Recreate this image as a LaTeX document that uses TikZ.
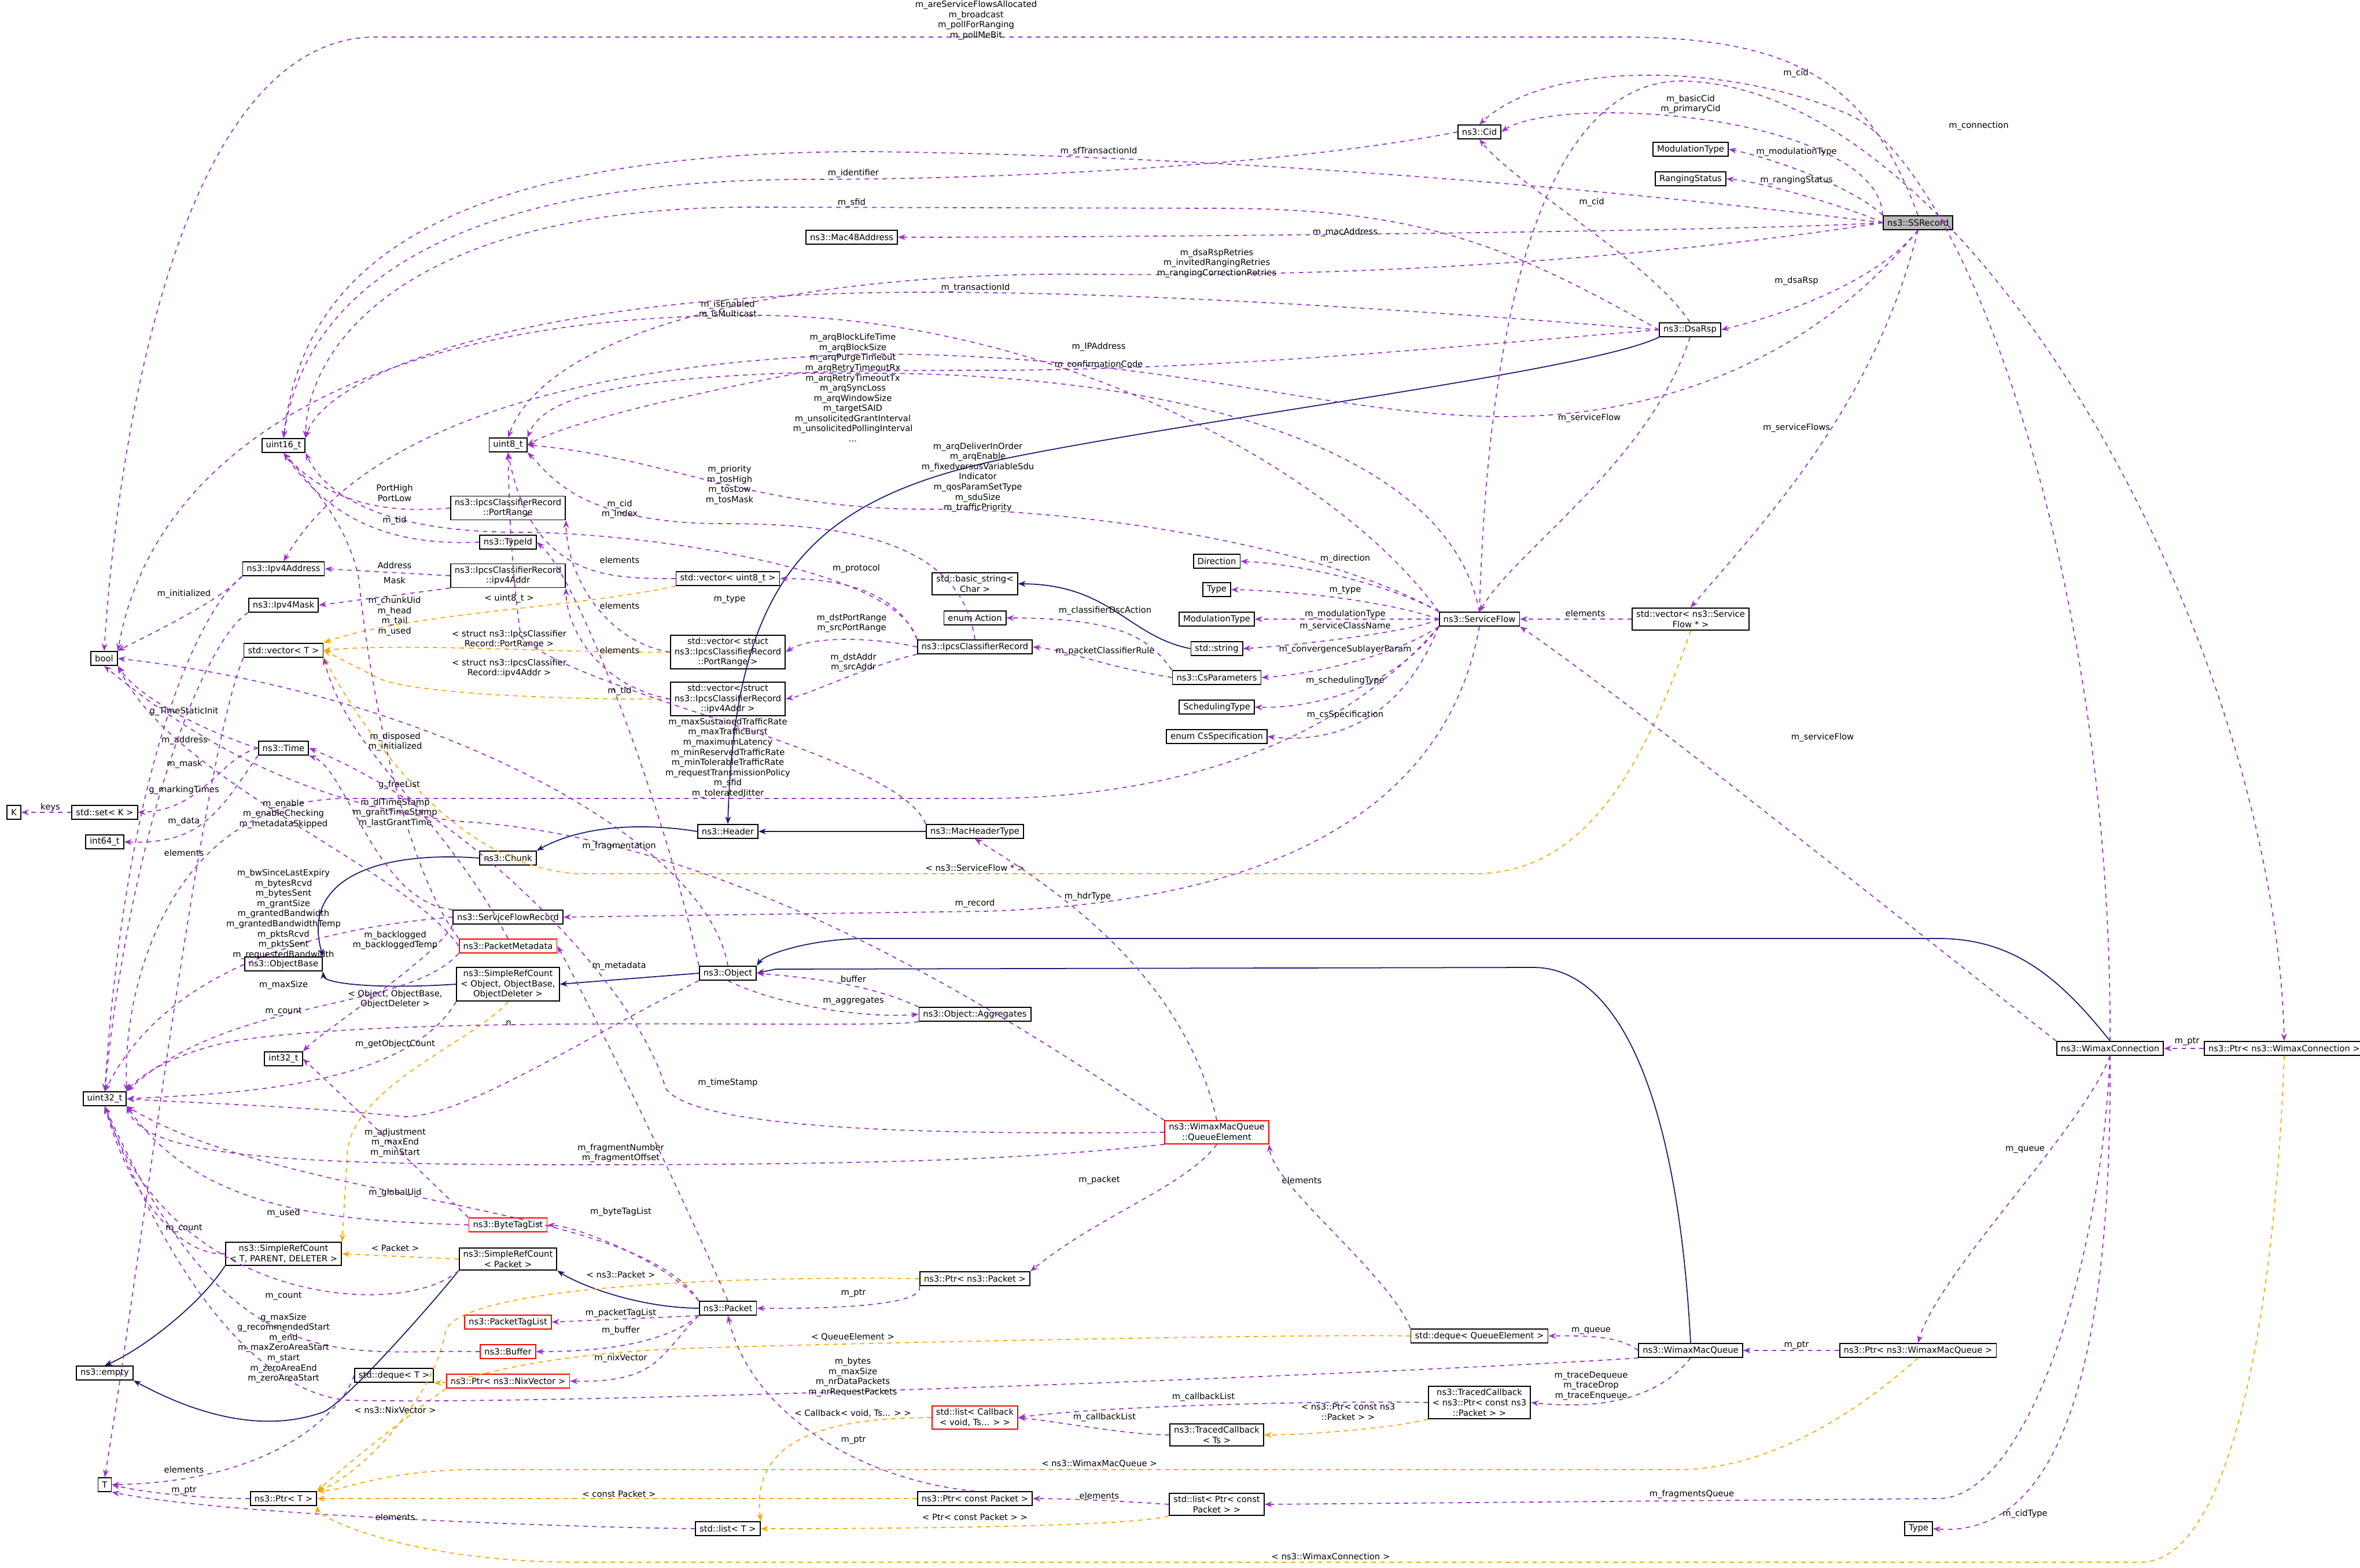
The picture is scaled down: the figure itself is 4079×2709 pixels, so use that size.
\documentclass[tikz,border=0pt]{standalone}
\usepackage{fontspec}
\setmainfont{DejaVu Sans}
\usetikzlibrary{arrows.meta}
\definecolor{usec}{HTML}{9A32CD}
\definecolor{inhc}{HTML}{191970}
\definecolor{tmpc}{HTML}{FFA500}
\begin{document}
\begin{tikzpicture}[x=0.01cm,y=0.01cm,
  font=\fontsize{4.2}{5}\selectfont,
  box/.style={draw=black,line width=0.5pt,fill=white,inner xsep=2pt,inner ysep=1.3pt,minimum height=0.24cm,align=center},
  redbox/.style={box,draw=red},
  grbox/.style={box,fill=gray!55},
  lbl/.style={align=center,inner sep=0.5pt},
  use/.style={draw=usec,dash pattern=on 2.2pt off 2.2pt,line width=0.5pt,-{Stealth[length=1.3mm,width=1.0mm]}},
  tmpl/.style={draw=tmpc,dash pattern=on 2.2pt off 2.2pt,line width=0.5pt,-{Stealth[length=1.3mm,width=1.0mm]}},
  inh/.style={draw=inhc,line width=0.5pt,-{Stealth[length=1.3mm,width=1.0mm]}}]
\useasboundingbox (0,0) rectangle (4079,-2709);
% ---------------- nodes
\node[grbox] (ssr) at (3315,-385) {ns3::SSRecord};
\node[box] (cid) at (2557,-228) {ns3::Cid};
\node[box] (modt) at (2922,-258) {ModulationType};
\node[box] (rang) at (2922,-309) {RangingStatus};
\node[box] (dsa) at (2921,-570) {ns3::DsaRsp};
\node[box] (mac) at (1472,-410) {ns3::Mac48Address};
\node[box] (u16) at (490,-770) {uint16\_t};
\node[box] (u8) at (878,-769) {uint8\_t};
\node[box] (pr) at (878,-878) {ns3::IpcsClassifierRecord\\::PortRange};
\node[box] (tid) at (878,-937) {ns3::TypeId};
\node[box] (ipr) at (878,-995) {ns3::IpcsClassifierRecord\\::ipv4Addr};
\node[box] (ipa) at (490,-983) {ns3::Ipv4Address};
\node[box] (ipm) at (490,-1046) {ns3::Ipv4Mask};
\node[box] (vu8) at (1258,-1000) {std::vector< uint8\_t >};
\node[box] (vpr) at (1258,-1127) {std::vector< struct\\ns3::IpcsClassifierRecord\\::PortRange >};
\node[box] (vip) at (1258,-1208) {std::vector< struct\\ns3::IpcsClassifierRecord\\::ipv4Addr >};
\node[box] (bstr) at (1685,-1009) {std::basic\_string<\\Char >};
\node[box] (act) at (1685,-1068) {enum Action};
\node[box] (ipcs) at (1685,-1118) {ns3::IpcsClassifierRecord};
\node[box] (dir) at (2103,-970) {Direction};
\node[box] (typ) at (2103,-1019) {Type};
\node[box] (modt2) at (2103,-1070) {ModulationType};
\node[box] (str) at (2103,-1121) {std::string};
\node[box] (csp) at (2103,-1171) {ns3::CsParameters};
\node[box] (sch) at (2103,-1222) {SchedulingType};
\node[box] (css) at (2103,-1273) {enum CsSpecification};
\node[box] (sf) at (2557,-1070) {ns3::ServiceFlow};
\node[box] (vsf) at (2922,-1070) {std::vector< ns3::Service\\Flow * >};
\node[box] (bool) at (180,-1138) {bool};
\node[box] (vT) at (490,-1124) {std::vector< T >};
\node[box] (time) at (490,-1293) {ns3::Time};
\node[box] (K) at (24,-1404) {K};
\node[box] (setk) at (181,-1404) {std::set< K >};
\node[box] (i64) at (181,-1455) {int64\_t};
\node[box] (hdr) at (1258,-1437) {ns3::Header};
\node[box] (mht) at (1685,-1437) {ns3::MacHeaderType};
\node[box] (chunk) at (878,-1483) {ns3::Chunk};
\node[box] (sfr) at (878,-1585) {ns3::ServiceFlowRecord};
\node[redbox] (pm) at (878,-1635) {ns3::PacketMetadata};
\node[box] (ob) at (490,-1666) {ns3::ObjectBase};
\node[box] (srco) at (878,-1701) {ns3::SimpleRefCount\\< Object, ObjectBase,\\ObjectDeleter >};
\node[box] (obj) at (1258,-1682) {ns3::Object};
\node[box] (agg) at (1685,-1753) {ns3::Object::Aggregates};
\node[box] (conn) at (3647,-1812) {ns3::WimaxConnection};
\node[box] (pconn) at (3948,-1812) {ns3::Ptr< ns3::WimaxConnection >};
\node[box] (i32) at (490,-1830) {int32\_t};
\node[box] (u32) at (181,-1899) {uint32\_t};
\node[redbox] (qe) at (2103,-1957) {ns3::WimaxMacQueue\\::QueueElement};
\node[redbox] (btl) at (878,-2117) {ns3::ByteTagList};
\node[box] (srct) at (490,-2167) {ns3::SimpleRefCount\\< T, PARENT, DELETER >};
\node[box] (srcp) at (878,-2176) {ns3::SimpleRefCount\\< Packet >};
\node[box] (pp) at (1685,-2210) {ns3::Ptr< ns3::Packet >};
\node[box] (pkt) at (1258,-2261) {ns3::Packet};
\node[redbox] (ptl) at (878,-2285) {ns3::PacketTagList};
\node[box] (dqe) at (2557,-2309) {std::deque< QueueElement >};
\node[box] (wmq) at (2922,-2334) {ns3::WimaxMacQueue};
\node[box] (pwmq) at (3315,-2334) {ns3::Ptr< ns3::WimaxMacQueue >};
\node[redbox] (buf) at (878,-2336) {ns3::Buffer};
\node[box] (empty) at (181,-2373) {ns3::empty};
\node[box] (dT) at (681,-2377) {std::deque< T >};
\node[redbox] (pnix) at (878,-2387) {ns3::Ptr< ns3::NixVector >};
\node[box] (tcp) at (2557,-2424) {ns3::TracedCallback\\< ns3::Ptr< const ns3\\::Packet > >};
\node[redbox] (lcb) at (1685,-2450) {std::list< Callback\\< void, Ts... > >};
\node[box] (tcs) at (2103,-2480) {ns3::TracedCallback\\< Ts >};
\node[box] (T) at (181,-2566) {T};
\node[box] (pT) at (490,-2590) {ns3::Ptr< T >};
\node[box] (pcp) at (1685,-2590) {ns3::Ptr< const Packet >};
\node[box] (lpcp) at (2103,-2600) {std::list< Ptr< const\\Packet > >};
\node[box] (lT) at (1258,-2642) {std::list< T >};
\node[box] (typ2) at (3316,-2642) {Type};
% ---------------- inheritance
\draw[inh] (dsa.south west) .. controls (2750,-640) and (2100,-720) .. (1750,-790) .. controls (1400,-860) and (1270,-1000) .. (hdr.north);
\draw[inh] (mht.west) -- (hdr.east);
\draw[inh] (hdr.west) .. controls (1100,-1420) and (1000,-1430) .. (chunk.north east);
\draw[inh] (chunk.west) .. controls (650,-1470) and (520,-1520) .. (ob.north east);
\draw[inh] (srco.west) .. controls (650,-1710) and (560,-1700) .. (ob.south east);
\draw[inh] (obj.west) -- (srco.east);
\draw[inh] (conn.north) .. controls (3560,-1690) and (3480,-1622) .. (3350,-1622) -- (1500,-1622) .. controls (1400,-1622) and (1320,-1650) .. (obj.north east);
\draw[inh] (wmq.north) .. controls (2900,-1900) and (2800,-1672) .. (2650,-1672) -- (1340,-1675) -- (obj.east);
\draw[inh] (srct.south west) .. controls (350,-2250) and (250,-2330) .. (empty.north);
\draw[inh] (srcp.south west) .. controls (750,-2250) and (600,-2420) .. (560,-2440) .. controls (450,-2480) and (330,-2440) .. (empty.south east);
\draw[inh] (pkt.west) .. controls (1100,-2260) and (1000,-2220) .. (srcp.south east);
\draw[inh] (str.west) .. controls (1950,-1100) and (1920,-1010) .. (bstr.east);
% ---------------- template instances
\draw[tmpl] (vsf.south) .. controls (2850,-1300) and (2750,-1510) .. (2550,-1510) -- (1000,-1510) .. controls (800,-1500) and (650,-1300) .. (vT.south east);
\node[lbl] (l_tsf) at (1685,-1500) {< ns3::ServiceFlow * >};
\draw[tmpl] (vu8.south west) .. controls (1000,-1050) and (700,-1060) .. (vT.north east);
\node[lbl] (l_tu8) at (880,-1035) {< uint8\_t >};
\draw[tmpl] (vpr.west) .. controls (1000,-1130) and (700,-1110) .. (vT.east);
\node[lbl] (l_tpr) at (880,-1105) {< struct ns3::IpcsClassifier\\Record::PortRange >};
\draw[tmpl] (vip.west) .. controls (1000,-1210) and (700,-1200) .. (650,-1170) -- (vT.east);
\node[lbl] (l_tip) at (880,-1155) {< struct ns3::IpcsClassifier\\Record::ipv4Addr >};
\draw[tmpl] (srco.south) .. controls (820,-1800) and (600,-1880) .. (600,-2000) -- (srct.north east);
\node[lbl] (l_tso) at (683,-1727) {< Object, ObjectBase,\\ObjectDeleter >};
\draw[tmpl] (srcp.west) -- (srct.east);
\node[lbl] (l_tsp) at (683,-2157) {< Packet >};
\draw[tmpl] (pnix.south west) .. controls (700,-2450) and (600,-2530) .. (pT.north east);
\node[lbl] (l_tnix) at (683,-2437) {< ns3::NixVector >};
\draw[tmpl] (pp.west) .. controls (1300,-2205) and (800,-2220) .. (770,-2300) .. controls (750,-2420) and (620,-2550) .. (pT.north east);
\node[lbl] (l_tpp) at (1073,-2203) {< ns3::Packet >};
\draw[tmpl] (dqe.west) .. controls (2300,-2305) and (1500,-2320) .. (1200,-2330) .. controls (900,-2340) and (800,-2390) .. (dT.south east);
\node[lbl] (l_tqe) at (1474,-2311) {< QueueElement >};
\draw[tmpl] (tcp.south west) .. controls (2400,-2470) and (2250,-2480) .. (tcs.east);
\node[lbl] (l_ttc) at (2330,-2440) {< ns3::Ptr< const ns3\\::Packet > >};
\draw[tmpl] (lcb.west) .. controls (1400,-2450) and (1300,-2500) .. (lT.north east);
\node[lbl] (l_tcb) at (1474,-2443) {< Callback< void, Ts... > >};
\draw[tmpl] (pcp.west) -- (pT.east);
\node[lbl] (l_tpc) at (1070,-2582) {< const Packet >};
\draw[tmpl] (lpcp.south west) .. controls (1950,-2640) and (1500,-2642) .. (lT.east);
\node[lbl] (l_tlp) at (1685,-2622) {< Ptr< const Packet > >};
\draw[tmpl] (pwmq.south) .. controls (3200,-2450) and (3050,-2540) .. (2900,-2540) -- (800,-2540) .. controls (650,-2545) and (600,-2575) .. (pT.north east);
\node[lbl] (l_twm) at (1900,-2530) {< ns3::WimaxMacQueue >};
\draw[tmpl] (pconn.south) .. controls (3930,-2300) and (3850,-2700) .. (3700,-2700) -- (1000,-2700) .. controls (700,-2700) and (550,-2620) .. (pT.south east);
\node[lbl] (l_twc) at (2300,-2690) {< ns3::WimaxConnection >};
% ---------------- usage: SSRecord
\draw[use] (ssr.north) .. controls (3230,-140) and (3100,-64) .. (2800,-64) -- (650,-64) .. controls (300,-64) and (200,-800) .. (bool.north);
\node[lbl] (l1) at (1687,-35) {m\_areServiceFlowsAllocated\\m\_broadcast\\m\_pollForRanging\\m\_pollMeBit};
\draw[use] (ssr.north west) .. controls (3250,-260) and (3000,-195) .. (2780,-195) .. controls (2680,-195) and (2620,-210) .. (cid.east);
\node[lbl] (l2) at (2922,-180) {m\_basicCid\\m\_primaryCid};
\draw[use] (ssr.north west) .. controls (3200,-320) and (3050,-270) .. (modt.east);
\node[lbl] (l3) at (3105,-263) {m\_modulationType};
\draw[use] (ssr.west) .. controls (3200,-360) and (3050,-315) .. (rang.east);
\node[lbl] (l4) at (3105,-312) {m\_rangingStatus};
\draw[use] (ssr.west) .. controls (3000,-400) and (2000,-410) .. (mac.east);
\node[lbl] (l5) at (2325,-402) {m\_macAddress};
\draw[use] (ssr.west) .. controls (2900,-340) and (2200,-270) .. (1500,-262) .. controls (700,-262) and (520,-500) .. (u16.north);
\node[lbl] (l6) at (1899,-262) {m\_sfTransactionId};
\draw[use] (ssr.west) .. controls (2900,-440) and (2400,-480) .. (1900,-474) .. controls (1400,-468) and (950,-560) .. (u8.north);
\node[lbl] (l7) at (2103,-455) {m\_dsaRspRetries\\m\_invitedRangingRetries\\m\_rangingCorrectionRetries};
\draw[use] (ssr.south) .. controls (3250,-480) and (3100,-540) .. (dsa.east);
\node[lbl] (l8) at (3105,-486) {m\_dsaRsp};
\draw[use] (ssr.south) .. controls (3240,-700) and (3050,-900) .. (vsf.north);
\node[lbl] (l9) at (3105,-740) {m\_serviceFlows};
\draw[use] (ssr.south) .. controls (3150,-600) and (2900,-720) .. (2600,-720) .. controls (2300,-720) and (2000,-610) .. (1500,-612) .. controls (900,-630) and (600,-780) .. (ipa.north);
\node[lbl] (l10) at (1899,-600) {m\_IPAddress};
% Cid / DsaRsp
\draw[use] (cid.west) .. controls (2200,-290) and (1700,-310) .. (1400,-310) .. controls (700,-310) and (520,-550) .. (u16.north);
\node[lbl] (l11) at (1475,-300) {m\_identifier};
\draw[use] (dsa.west) .. controls (2600,-420) and (2450,-360) .. (2100,-360) -- (1300,-358) .. controls (700,-358) and (530,-600) .. (u16.north east);
\node[lbl] (l12) at (1472,-351) {m\_sfid};
\draw[use] (dsa.west) .. controls (2500,-540) and (2000,-505) .. (1600,-505) .. controls (900,-505) and (560,-650) .. (u16.north east);
\node[lbl] (l13) at (1686,-498) {m\_transactionId};
\draw[use] (dsa.west) .. controls (2500,-600) and (2100,-640) .. (1700,-640) .. controls (1200,-640) and (950,-660) .. (u8.north east);
\node[lbl] (l14) at (1899,-631) {m\_confirmationCode};
\draw[use] (dsa.north) .. controls (2850,-450) and (2620,-320) .. (cid.south);
\node[lbl] (l15) at (2751,-350) {m\_cid};
\draw[use] (dsa.south) .. controls (2850,-800) and (2620,-950) .. (sf.north);
\node[lbl] (l16) at (2747,-723) {m\_serviceFlow};
% ServiceFlow
\draw[use] (sf.north west) .. controls (2300,-800) and (1800,-545) .. (1300,-545) .. controls (600,-545) and (260,-800) .. (bool.north east);
\node[lbl] (l17) at (1258,-535) {m\_isEnabled\\m\_isMulticast};
\draw[use] (sf.north) .. controls (2500,-760) and (2000,-645) .. (1500,-645) -- (1380,-645) .. controls (1300,-660) and (1000,-720) .. (u8.east);
\node[lbl] (l18) at (1474,-670) {m\_arqBlockLifeTime\\m\_arqBlockSize\\m\_arqPurgeTimeout\\m\_arqRetryTimeoutRx\\m\_arqRetryTimeoutTx\\m\_arqSyncLoss\\m\_arqWindowSize\\m\_targetSAID\\m\_unsolicitedGrantInterval\\m\_unsolicitedPollingInterval\\...};
\draw[use] (sf.north west) .. controls (2300,-950) and (1900,-880) .. (1600,-880) .. controls (1300,-880) and (1150,-790) .. (u8.east);
\node[lbl] (l19) at (1690,-825) {m\_arqDeliverInOrder\\m\_arqEnable\\m\_fixedversusVariableSdu\\Indicator\\m\_qosParamSetType\\m\_sduSize\\m\_trafficPriority};
\draw[use] (sf.south west) .. controls (2300,-1300) and (2000,-1380) .. (1700,-1380) -- (600,-1380) .. controls (300,-1380) and (210,-1700) .. (u32.north east);
\node[lbl] (l20) at (1258,-1310) {m\_maxSustainedTrafficRate\\m\_maxTrafficBurst\\m\_maximumLatency\\m\_minReservedTrafficRate\\m\_minTolerableTrafficRate\\m\_requestTransmissionPolicy\\m\_sfid\\m\_toleratedJitter};
\draw[use] (sf.north west) .. controls (2400,-1010) and (2250,-975) .. (dir.east);
\node[lbl] (l21) at (2325,-966) {m\_direction};
\draw[use] (sf.west) .. controls (2400,-1040) and (2250,-1022) .. (typ.east);
\node[lbl] (l22) at (2325,-1020) {m\_type};
\draw[use] (sf.west) -- (modt2.east);
\node[lbl] (l23) at (2325,-1062) {m\_modulationType};
\draw[use] (sf.west) .. controls (2450,-1090) and (2250,-1115) .. (str.east);
\node[lbl] (l24) at (2325,-1083) {m\_serviceClassName};
\draw[use] (sf.south west) .. controls (2400,-1140) and (2250,-1167) .. (csp.east);
\node[lbl] (l25) at (2325,-1123) {m\_convergenceSublayerParam};
\draw[use] (sf.south west) .. controls (2400,-1200) and (2250,-1225) .. (sch.east);
\node[lbl] (l26) at (2325,-1177) {m\_schedulingType};
\draw[use] (sf.south west) .. controls (2420,-1250) and (2300,-1285) .. (css.east);
\node[lbl] (l27) at (2325,-1236) {m\_csSpecification};
\draw[use] (sf.south) .. controls (2500,-1400) and (2200,-1560) .. (1700,-1575) -- (sfr.east);
\node[lbl] (l28) at (1685,-1562) {m\_record};
\draw[use] (vsf.west) -- (sf.east);
\node[lbl] (l29) at (2740,-1060) {elements};
\draw[use] (conn.north west) .. controls (3300,-1600) and (2800,-1200) .. (sf.south east);
\node[lbl] (l30) at (3150,-1275) {m\_serviceFlow};
\draw[use] (sf.north) .. controls (2570,-600) and (2650,-150) .. (2900,-140) .. controls (3400,-140) and (3930,-1100) .. (pconn.north);
\node[lbl] (l31) at (3420,-218) {m\_connection};
% Ipcs
\draw[use] (ipcs.north) .. controls (1660,-930) and (1450,-905) .. (1250,-905) .. controls (1000,-905) and (950,-820) .. (u8.south east);
\node[lbl] (l32) at (1261,-838) {m\_priority\\m\_tosHigh\\m\_tosLow\\m\_tosMask};
\draw[use] (ipcs.north west) .. controls (1550,-980) and (1100,-920) .. (900,-920) .. controls (650,-920) and (560,-850) .. (u16.south east);
\node[lbl] (l33) at (1071,-880) {m\_cid\\m\_index};
\draw[use] (ipcs.north west) .. controls (1550,-1020) and (1450,-1000) .. (vu8.east);
\node[lbl] (l34) at (1480,-983) {m\_protocol};
\draw[use] (ipcs.west) .. controls (1500,-1100) and (1400,-1100) .. (vpr.east);
\node[lbl] (l35) at (1472,-1077) {m\_dstPortRange\\m\_srcPortRange};
\draw[use] (ipcs.south west) .. controls (1500,-1150) and (1400,-1200) .. (vip.east);
\node[lbl] (l36) at (1475,-1145) {m\_dstAddr\\m\_srcAddr};
\draw[use] (csp.west) .. controls (1900,-1150) and (1850,-1125) .. (ipcs.east);
\node[lbl] (l37) at (1910,-1126) {m\_packetClassifierRule};
\draw[use] (csp.north west) .. controls (1990,-1110) and (1950,-1068) .. (act.east);
\node[lbl] (l38) at (1910,-1056) {m\_classifierDscAction};
\draw[use] (vu8.west) .. controls (1050,-1000) and (920,-1000) .. (u8.south);
\node[lbl] (l39) at (1071,-968) {elements};
\draw[use] (vpr.west) .. controls (1050,-1110) and (980,-1000) .. (pr.south east);
\node[lbl] (l40) at (1071,-1047) {elements};
\draw[use] (vip.west) .. controls (1050,-1190) and (980,-1100) .. (ipr.south east);
\node[lbl] (l41) at (1071,-1124) {elements};
\draw[use] (pr.west) .. controls (650,-890) and (560,-860) .. (u16.south);
\node[lbl] (l42) at (682,-852) {PortHigh\\PortLow};
\draw[use] (tid.west) .. controls (650,-945) and (560,-880) .. (u16.south);
\node[lbl] (l43) at (682,-900) {m\_tid};
\draw[use] (ipr.west) -- (ipa.east);
\node[lbl] (l44) at (682,-977) {Address};
\draw[use] (ipr.south west) -- (ipm.east);
\node[lbl] (l45) at (682,-1003) {Mask};
\draw[use] (ipa.south west) .. controls (350,-1050) and (220,-1300) .. (u32.north);
\node[lbl] (l46) at (319,-1280) {m\_address};
\draw[use] (ipm.south west) .. controls (360,-1100) and (230,-1400) .. (u32.north);
\node[lbl] (l47) at (319,-1321) {m\_mask};
\draw[use] (ipa.south west) .. controls (380,-1040) and (250,-1100) .. (bool.north east);
\node[lbl] (l48) at (318,-1027) {m\_initialized};
\draw[use] (mht.north west) .. controls (1550,-1300) and (1000,-1200) .. (900,-1100) .. controls (880,-950) and (880,-850) .. (u8.south);
\node[lbl] (l49) at (1261,-1036) {m\_type};
% left side
\draw[use] (pm.north west) .. controls (700,-1500) and (640,-1200) .. (620,-1000) .. controls (600,-900) and (530,-830) .. (u16.south);
\node[lbl] (l50) at (682,-1065) {m\_chunkUid\\m\_head\\m\_tail\\m\_used};
\draw[use] (pm.west) .. controls (700,-1500) and (300,-1350) .. (bool.south east);
\node[lbl] (l51) at (490,-1407) {m\_enable\\m\_enableChecking\\m\_metadataSkipped};
\draw[use] (pm.north) .. controls (760,-1400) and (600,-1300) .. (vT.south east);
\node[lbl] (l52) at (690,-1357) {g\_freeList};
\draw[use] (pm.south west) .. controls (700,-1750) and (400,-1720) .. (u32.north east);
\node[lbl] (l53) at (490,-1703) {m\_maxSize};
\draw[use] (time.west) .. controls (400,-1280) and (250,-1220) .. (bool.south east);
\node[lbl] (l54) at (318,-1230) {g\_TimeStaticInit};
\draw[use] (time.west) .. controls (380,-1310) and (350,-1400) .. (setk.east);
\node[lbl] (l55) at (318,-1366) {g\_markingTimes};
\draw[use] (time.south west) .. controls (380,-1400) and (350,-1460) .. (i64.east);
\node[lbl] (l56) at (318,-1420) {m\_data};
\draw[use] (setk.west) -- (K.east);
\node[lbl] (l57) at (87,-1395) {keys};
\draw[use] (vT.south west) .. controls (350,-1300) and (240,-2200) .. (T.north);
\node[lbl] (l58) at (318,-1474) {elements};
\draw[use] (obj.north) .. controls (1220,-1450) and (750,-1200) .. (bool.east);
\node[lbl] (l59) at (683,-1282) {m\_disposed\\m\_initialized};
\draw[use] (sfr.west) .. controls (600,-1600) and (300,-1650) .. (u32.north);
\node[lbl] (l60) at (490,-1580) {m\_bwSinceLastExpiry\\m\_bytesRcvd\\m\_bytesSent\\m\_grantSize\\m\_grantedBandwidth\\m\_grantedBandwidthTemp\\m\_pktsRcvd\\m\_pktsSent\\m\_requestedBandwidth};
\draw[use] (sfr.north west) .. controls (650,-1560) and (600,-1330) .. (time.south east);
\node[lbl] (l61) at (683,-1405) {m\_dlTimeStamp\\m\_grantTimeStamp\\m\_lastGrantTime};
\draw[use] (sfr.south west) .. controls (760,-1650) and (560,-1780) .. (i32.north east);
\node[lbl] (l62) at (683,-1625) {m\_backlogged\\m\_backloggedTemp};
\draw[use] (srco.south west) .. controls (700,-1880) and (400,-1890) .. (u32.east);
\node[lbl] (l63) at (490,-1748) {m\_count};
\draw[use] (obj.south west) .. controls (1000,-1800) and (800,-1930) .. (700,-1930) .. controls (500,-1910) and (300,-1905) .. (u32.east);
\node[lbl] (l64) at (683,-1805) {m\_getObjectCount};
\draw[use] (agg.south west) .. controls (1500,-1780) and (700,-1750) .. (400,-1800) .. controls (300,-1820) and (240,-1860) .. (u32.north east);
\node[lbl] (l65) at (879,-1768) {n};
\draw[use] (agg.north west) .. controls (1500,-1700) and (1400,-1690) .. (obj.east);
\node[lbl] (l66) at (1475,-1692) {buffer};
\draw[use] (obj.south) .. controls (1350,-1740) and (1500,-1760) .. (agg.west);
\node[lbl] (l67) at (1475,-1730) {m\_aggregates};
\draw[use] (pkt.north) .. controls (1150,-2000) and (1000,-1700) .. (pm.east);
\node[lbl] (l68) at (1070,-1670) {m\_metadata};
\draw[use] (obj.north west) .. controls (1150,-1400) and (1000,-1000) .. (tid.east);
\node[lbl] (l69) at (1071,-1195) {m\_tid};
\draw[use] (btl.north west) .. controls (700,-2000) and (600,-1900) .. (i32.east);
\node[lbl] (l70) at (683,-1975) {m\_adjustment\\m\_maxEnd\\m\_minStart};
\draw[use] (btl.west) .. controls (600,-2110) and (350,-2100) .. (u32.south east);
\node[lbl] (l71) at (490,-2097) {m\_used};
\draw[use] (pkt.north west) .. controls (1100,-2080) and (500,-2080) .. (u32.south east);
\node[lbl] (l72) at (683,-2062) {m\_globalUid};
\draw[use] (buf.west) .. controls (600,-2330) and (400,-2400) .. (u32.south);
\node[lbl] (l73) at (490,-2330) {g\_maxSize\\g\_recommendedStart\\m\_end\\m\_maxZeroAreaStart\\m\_start\\m\_zeroAreaEnd\\m\_zeroAreaStart};
\draw[use] (srct.west) .. controls (300,-2170) and (220,-2050) .. (u32.south);
\node[lbl] (l74) at (318,-2123) {m\_count};
\draw[use] (srcp.south west) .. controls (700,-2280) and (300,-2260) .. (u32.south);
\node[lbl] (l75) at (490,-2240) {m\_count};
\draw[use] (pkt.north west) .. controls (1150,-2180) and (1000,-2120) .. (btl.east);
\node[lbl] (l76) at (1073,-2095) {m\_byteTagList};
\draw[use] (pkt.south west) -- (ptl.east);
\node[lbl] (l77) at (1073,-2270) {m\_packetTagList};
\draw[use] (pkt.south west) .. controls (1150,-2320) and (1050,-2336) .. (buf.east);
\node[lbl] (l78) at (1073,-2300) {m\_buffer};
\draw[use] (pkt.south west) .. controls (1140,-2340) and (1140,-2390) .. (pnix.east);
\node[lbl] (l79) at (1073,-2348) {m\_nixVector};
\draw[use] (pp.south west) .. controls (1600,-2260) and (1400,-2262) .. (pkt.east);
\node[lbl] (l80) at (1475,-2235) {m\_ptr};
\draw[use] (qe.south) .. controls (2050,-2050) and (1900,-2100) .. (pp.north east);
\node[lbl] (l81) at (1900,-2040) {m\_packet};
\draw[use] (qe.west) .. controls (1700,-1960) and (1200,-1960) .. (1150,-1880) .. controls (1100,-1700) and (800,-1400) .. (time.east);
\node[lbl] (l82) at (1258,-1872) {m\_timeStamp};
\draw[use] (qe.south west) .. controls (1800,-2000) and (1600,-2013) .. (1000,-2013) .. controls (500,-2013) and (250,-2000) .. (u32.south east);
\node[lbl] (l83) at (1073,-1993) {m\_fragmentNumber\\m\_fragmentOffset};
\draw[use] (qe.north) .. controls (2050,-1700) and (1850,-1550) .. (mht.south);
\node[lbl] (l84) at (1880,-1550) {m\_hdrType};
\draw[use] (qe.north west) .. controls (1800,-1800) and (1300,-1450) .. (800,-1420) .. controls (500,-1390) and (300,-1250) .. (bool.south);
\node[lbl] (l85) at (1070,-1463) {m\_fragmentation};
\draw[use] (dqe.north west) .. controls (2400,-2200) and (2200,-2050) .. (qe.south east);
\node[lbl] (l86) at (2250,-2040) {elements};
\draw[use] (dT.west) .. controls (600,-2420) and (500,-2560) .. (T.east);
\node[lbl] (l87) at (318,-2540) {elements};
\draw[use] (wmq.west) .. controls (2800,-2310) and (2750,-2308) .. (dqe.east);
\node[lbl] (l88) at (2750,-2300) {m\_queue};
\draw[use] (wmq.south west) .. controls (2500,-2370) and (1000,-2430) .. (600,-2420) .. controls (400,-2400) and (250,-2100) .. (u32.south);
\node[lbl] (l89) at (1474,-2380) {m\_bytes\\m\_maxSize\\m\_nrDataPackets\\m\_nrRequestPackets};
\draw[use] (wmq.south) .. controls (2880,-2400) and (2800,-2440) .. (tcp.east);
\node[lbl] (l90) at (2750,-2395) {m\_traceDequeue\\m\_traceDrop\\m\_traceEnqueue};
\draw[use] (tcp.west) .. controls (2300,-2420) and (1900,-2430) .. (lcb.east);
\node[lbl] (l91) at (2080,-2415) {m\_callbackList};
\draw[use] (tcs.west) .. controls (1950,-2480) and (1850,-2460) .. (lcb.east);
\node[lbl] (l92) at (1909,-2450) {m\_callbackList};
\draw[use] (pcp.north) .. controls (1500,-2560) and (1300,-2450) .. (pkt.south);
\node[lbl] (l93) at (1475,-2489) {m\_ptr};
\draw[use] (lpcp.west) .. controls (1950,-2595) and (1850,-2590) .. (pcp.east);
\node[lbl] (l94) at (1900,-2585) {elements};
\draw[use] (lT.west) .. controls (1000,-2640) and (400,-2620) .. (T.south east);
\node[lbl] (l95) at (683,-2622) {elements};
\draw[use] (pT.west) .. controls (350,-2590) and (250,-2580) .. (T.east);
\node[lbl] (l96) at (318,-2576) {m\_ptr};
% connection
\draw[use] (pwmq.west) -- (wmq.east);
\node[lbl] (l97) at (3105,-2325) {m\_ptr};
\draw[use] (conn.south) .. controls (3600,-1950) and (3350,-2200) .. (pwmq.north);
\node[lbl] (l98) at (3500,-1987) {m\_queue};
\draw[use] (conn.south) .. controls (3630,-2200) and (3500,-2590) .. (3350,-2590) -- (lpcp.east);
\node[lbl] (l99) at (2924,-2583) {m\_fragmentsQueue};
\draw[use] (conn.south) .. controls (3650,-2300) and (3580,-2660) .. (typ2.east);
\node[lbl] (l100) at (3500,-2617) {m\_cidType};
\draw[use] (conn.north) .. controls (3650,-1000) and (3400,-300) .. (3200,-200) .. controls (3000,-110) and (2680,-100) .. (cid.north);
\node[lbl] (l101) at (3104,-127) {m\_cid};
\draw[use] (pconn.west) -- (conn.east);
\node[lbl] (l102) at (3780,-1800) {m\_ptr};
\end{tikzpicture}
\end{document}
